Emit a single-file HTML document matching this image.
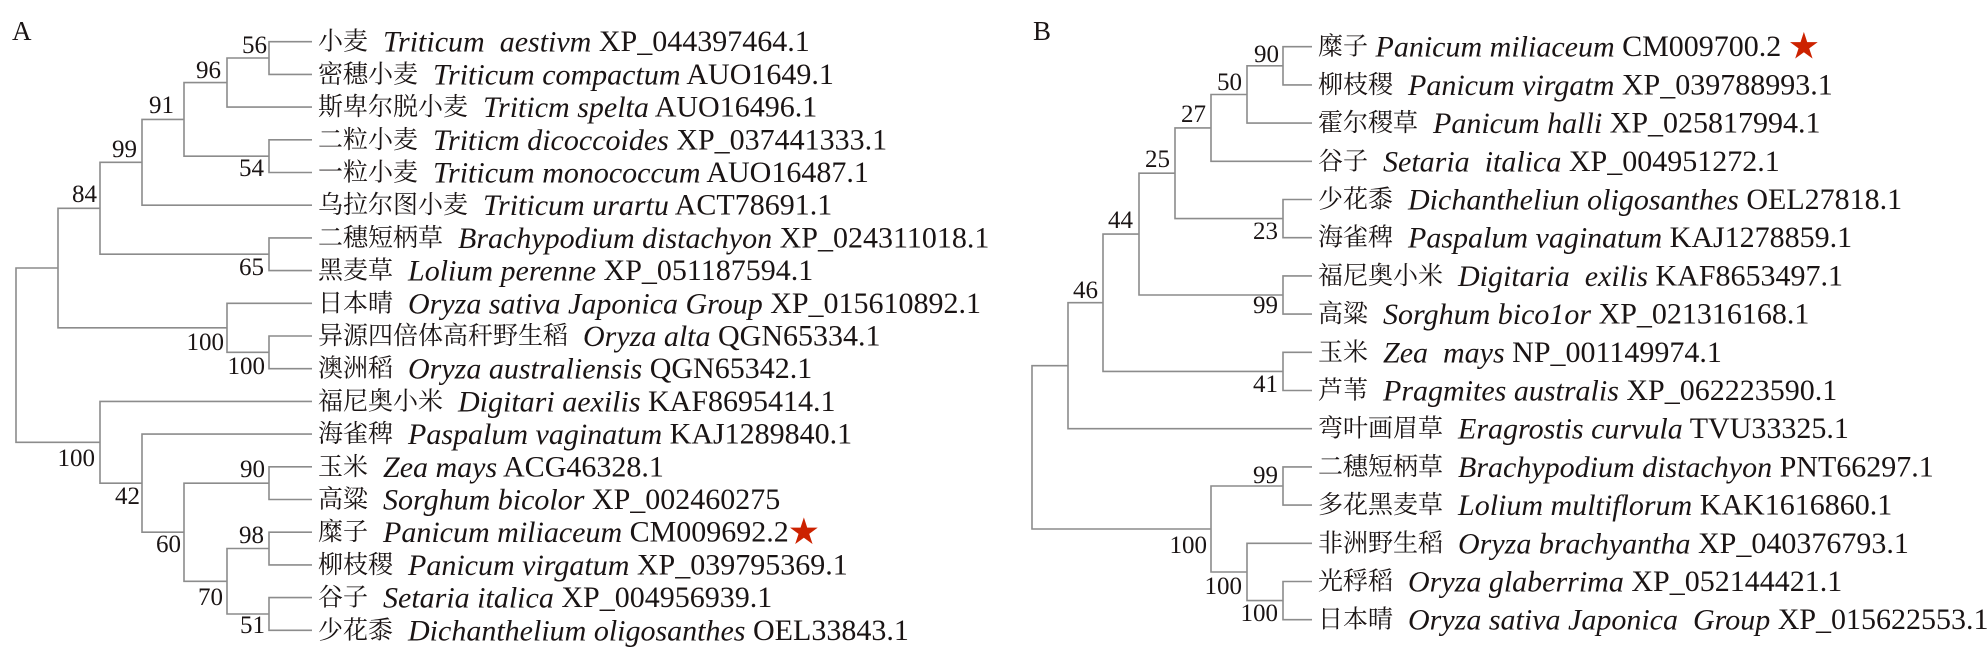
<!DOCTYPE html>
<html><head><meta charset="utf-8"><style>
html,body{margin:0;padding:0;background:#fff;}
svg{display:block;}
text{font-family:"Liberation Serif","Noto Serif CJK SC","Noto Sans CJK SC",serif;fill:#1a1414;}
.l{font-size:30px;}
.c{font-size:25px;}
.n{font-size:25px;text-anchor:end;}
.i{font-style:italic;}
.s{fill:#cc2200;font-size:30px;}
</style></head><body>
<svg width="1988" height="659" viewBox="0 0 1988 659" xmlns="http://www.w3.org/2000/svg">
<g fill="none" stroke="#8c8c8c" stroke-width="1.6">
<path d="M312 41.7 H269 V74.4 H312"/>
<path d="M269 58 H227 V107.1 H312"/>
<path d="M312 139.8 H269 V172.5 H312"/>
<path d="M227 82.6 H184 V156.2 H269"/>
<path d="M184 119.4 H142 V205.2 H312"/>
<path d="M312 237.9 H269 V270.6 H312"/>
<path d="M142 162.3 H100 V254.2 H269"/>
<path d="M312 336 H269 V368.7 H312"/>
<path d="M312 303.3 H227 V352.3 H269"/>
<path d="M100 208.3 H58 V327.8 H227"/>
<path d="M312 466.8 H269 V499.5 H312"/>
<path d="M312 532.2 H269 V564.9 H312"/>
<path d="M312 597.6 H269 V630.3 H312"/>
<path d="M269 548.5 H227 V614 H269"/>
<path d="M269 483.2 H184 V581.3 H227"/>
<path d="M312 434.1 H142 V532.2 H184"/>
<path d="M312 401.4 H100 V483.2 H142"/>
<path d="M58 268 H16 V442.3 H100"/>

<path d="M1312 46.7 H1283 V84.9 H1312"/>
<path d="M1283 65.8 H1247 V123.1 H1312"/>
<path d="M1247 94.5 H1211 V161.3 H1312"/>
<path d="M1312 199.5 H1283 V237.7 H1312"/>
<path d="M1211 127.9 H1175 V218.6 H1283"/>
<path d="M1312 275.9 H1283 V314.1 H1312"/>
<path d="M1175 173.2 H1139 V295 H1283"/>
<path d="M1312 352.3 H1283 V390.5 H1312"/>
<path d="M1139 234.1 H1103 V371.4 H1283"/>
<path d="M1103 302.7 H1068 V428.7 H1312"/>
<path d="M1312 466.9 H1283 V505.1 H1312"/>
<path d="M1312 581.5 H1283 V619.7 H1312"/>
<path d="M1312 543.3 H1247 V600.6 H1283"/>
<path d="M1283 486 H1211 V572 H1247"/>
<path d="M1068 365.7 H1032 V529 H1211"/>
</g>

<text x="12" y="40" style="font-size:27px">A</text>
<text x="1033" y="40" style="font-size:27px">B</text>

<text class="n" x="267" y="53">56</text>
<text class="n" x="221" y="78">96</text>
<text class="n" x="174" y="113">91</text>
<text class="n" x="137" y="157">99</text>
<text class="n" x="97" y="202">84</text>
<text class="n" x="264" y="176">54</text>
<text class="n" x="264" y="275">65</text>
<text class="n" x="224" y="350">100</text>
<text class="n" x="265" y="374">100</text>
<text class="n" x="95" y="466">100</text>
<text class="n" x="140" y="504">42</text>
<text class="n" x="181" y="552">60</text>
<text class="n" x="265" y="477">90</text>
<text class="n" x="264" y="543">98</text>
<text class="n" x="223" y="605">70</text>
<text class="n" x="265" y="633">51</text>

<text class="n" x="1279" y="62">90</text>
<text class="n" x="1242" y="90">50</text>
<text class="n" x="1206" y="122">27</text>
<text class="n" x="1170" y="167">25</text>
<text class="n" x="1133" y="228">44</text>
<text class="n" x="1098" y="298">46</text>
<text class="n" x="1278" y="239">23</text>
<text class="n" x="1278" y="313">99</text>
<text class="n" x="1278" y="392">41</text>
<text class="n" x="1278" y="483">99</text>
<text class="n" x="1207" y="553">100</text>
<text class="n" x="1242" y="594">100</text>
<text class="n" x="1278" y="621">100</text>

<g class="l" dominant-baseline="central">
<text x="318" y="41.7" xml:space="preserve"><tspan class="c">小麦</tspan>  <tspan class="i">Triticum  aestivm</tspan> XP_044397464.1</text>
<text x="318" y="74.4" xml:space="preserve"><tspan class="c">密穗小麦</tspan>  <tspan class="i">Triticum compactum</tspan> AUO1649.1</text>
<text x="318" y="107.1" xml:space="preserve"><tspan class="c">斯卑尔脱小麦</tspan>  <tspan class="i">Triticm spelta</tspan> AUO16496.1</text>
<text x="318" y="139.8" xml:space="preserve"><tspan class="c">二粒小麦</tspan>  <tspan class="i">Triticm dicoccoides</tspan> XP_037441333.1</text>
<text x="318" y="172.5" xml:space="preserve"><tspan class="c">一粒小麦</tspan>  <tspan class="i">Triticum monococcum</tspan> AUO16487.1</text>
<text x="318" y="205.2" xml:space="preserve"><tspan class="c">乌拉尔图小麦</tspan>  <tspan class="i">Triticum urartu</tspan> ACT78691.1</text>
<text x="318" y="237.9" xml:space="preserve"><tspan class="c">二穗短柄草</tspan>  <tspan class="i">Brachypodium distachyon</tspan> XP_024311018.1</text>
<text x="318" y="270.6" xml:space="preserve"><tspan class="c">黑麦草</tspan>  <tspan class="i">Lolium perenne</tspan> XP_051187594.1</text>
<text x="318" y="303.3" xml:space="preserve"><tspan class="c">日本晴</tspan>  <tspan class="i">Oryza sativa Japonica Group</tspan> XP_015610892.1</text>
<text x="318" y="336" xml:space="preserve"><tspan class="c">异源四倍体高秆野生稻</tspan>  <tspan class="i">Oryza alta</tspan> QGN65334.1</text>
<text x="318" y="368.7" xml:space="preserve"><tspan class="c">澳洲稻</tspan>  <tspan class="i">Oryza australiensis</tspan> QGN65342.1</text>
<text x="318" y="401.4" xml:space="preserve"><tspan class="c">福尼奥小米</tspan>  <tspan class="i">Digitari aexilis</tspan> KAF8695414.1</text>
<text x="318" y="434.1" xml:space="preserve"><tspan class="c">海雀稗</tspan>  <tspan class="i">Paspalum vaginatum</tspan> KAJ1289840.1</text>
<text x="318" y="466.8" xml:space="preserve"><tspan class="c">玉米</tspan>  <tspan class="i">Zea mays</tspan> ACG46328.1</text>
<text x="318" y="499.5" xml:space="preserve"><tspan class="c">高粱</tspan>  <tspan class="i">Sorghum bicolor</tspan> XP_002460275</text>
<text x="318" y="532.2" xml:space="preserve"><tspan class="c">糜子</tspan>  <tspan class="i">Panicum miliaceum</tspan> CM009692.2<tspan class="s">★</tspan></text>
<text x="318" y="564.9" xml:space="preserve"><tspan class="c">柳枝稷</tspan>  <tspan class="i">Panicum virgatum</tspan> XP_039795369.1</text>
<text x="318" y="597.6" xml:space="preserve"><tspan class="c">谷子</tspan>  <tspan class="i">Setaria italica</tspan> XP_004956939.1</text>
<text x="318" y="630.3" xml:space="preserve"><tspan class="c">少花黍</tspan>  <tspan class="i">Dichanthelium oligosanthes</tspan> OEL33843.1</text>
</g>

<g class="l" dominant-baseline="central">
<text x="1318" y="46.7" xml:space="preserve"><tspan class="c">糜子</tspan> <tspan class="i">Panicum miliaceum</tspan> CM009700.2 <tspan class="s">★</tspan></text>
<text x="1318" y="84.9" xml:space="preserve"><tspan class="c">柳枝稷</tspan>  <tspan class="i">Panicum virgatm</tspan> XP_039788993.1</text>
<text x="1318" y="123.1" xml:space="preserve"><tspan class="c">霍尔稷草</tspan>  <tspan class="i">Panicum halli</tspan> XP_025817994.1</text>
<text x="1318" y="161.3" xml:space="preserve"><tspan class="c">谷子</tspan>  <tspan class="i">Setaria  italica</tspan> XP_004951272.1</text>
<text x="1318" y="199.5" xml:space="preserve"><tspan class="c">少花黍</tspan>  <tspan class="i">Dichantheliun oligosanthes</tspan> OEL27818.1</text>
<text x="1318" y="237.7" xml:space="preserve"><tspan class="c">海雀稗</tspan>  <tspan class="i">Paspalum vaginatum</tspan> KAJ1278859.1</text>
<text x="1318" y="275.9" xml:space="preserve"><tspan class="c">福尼奥小米</tspan>  <tspan class="i">Digitaria  exilis</tspan> KAF8653497.1</text>
<text x="1318" y="314.1" xml:space="preserve"><tspan class="c">高粱</tspan>  <tspan class="i">Sorghum bico1or</tspan> XP_021316168.1</text>
<text x="1318" y="352.3" xml:space="preserve"><tspan class="c">玉米</tspan>  <tspan class="i">Zea  mays</tspan> NP_001149974.1</text>
<text x="1318" y="390.5" xml:space="preserve"><tspan class="c">芦苇</tspan>  <tspan class="i">Pragmites australis</tspan> XP_062223590.1</text>
<text x="1318" y="428.7" xml:space="preserve"><tspan class="c">弯叶画眉草</tspan>  <tspan class="i">Eragrostis curvula</tspan> TVU33325.1</text>
<text x="1318" y="466.9" xml:space="preserve"><tspan class="c">二穗短柄草</tspan>  <tspan class="i">Brachypodium distachyon</tspan> PNT66297.1</text>
<text x="1318" y="505.1" xml:space="preserve"><tspan class="c">多花黑麦草</tspan>  <tspan class="i">Lolium multiflorum</tspan> KAK1616860.1</text>
<text x="1318" y="543.3" xml:space="preserve"><tspan class="c">非洲野生稻</tspan>  <tspan class="i">Oryza brachyantha</tspan> XP_040376793.1</text>
<text x="1318" y="581.5" xml:space="preserve"><tspan class="c">光稃稻</tspan>  <tspan class="i">Oryza glaberrima</tspan> XP_052144421.1</text>
<text x="1318" y="619.7" xml:space="preserve"><tspan class="c">日本晴</tspan>  <tspan class="i">Oryza sativa Japonica  Group</tspan> XP_015622553.1</text>
</g>
</svg>
</body></html>
